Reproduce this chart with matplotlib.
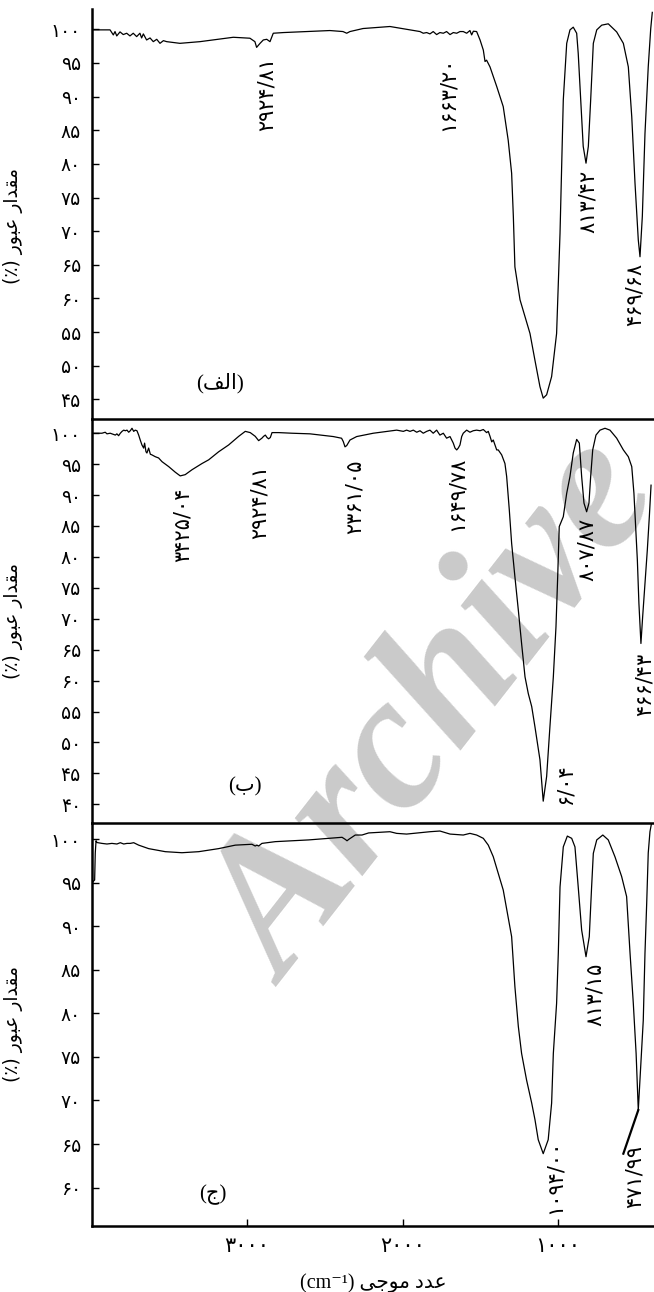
import matplotlib
matplotlib.use("Agg")
import matplotlib.pyplot as plt

# --- spectrum (a) ---
wn_a = [3996, 3988, 3880, 3859, 3848, 3837, 3816, 3795, 3773, 3752, 3731, 3709, 3688, 3677,
        3666, 3645, 3623, 3602, 3580, 3559, 3537, 3516, 3431, 3302, 3088, 2981, 2949, 2938,
        2916, 2895, 2873, 2852, 2831, 2766, 2467, 2383, 2359, 2338, 2254, 2081, 1888, 1867,
        1845, 1824, 1803, 1781, 1760, 1738, 1717, 1695, 1674, 1652, 1631, 1610, 1588, 1567,
        1556, 1545, 1524, 1502, 1481, 1470, 1460, 1438, 1395, 1353, 1321, 1299, 1288, 1278,
        1245, 1181, 1149, 1117, 1096, 1074, 1042, 1010, 988, 967, 945, 924, 903, 881, 871,
        855, 839, 821, 806, 791, 774, 752, 720, 678, 624, 581, 549, 527, 506, 485, 474, 459,
        442, 421, 405, 395]
tr_a = [100.0, 99.9, 99.9, 99.15, 99.65, 99.0, 99.6, 99.2, 99.4, 99.0, 99.4, 98.9, 99.4, 98.7,
        99.3, 98.4, 98.7, 98.15, 98.5, 97.9, 98.3, 98.15, 97.9, 98.15, 98.8, 98.66, 98.15, 97.3,
        97.9, 98.4, 98.5, 98.15, 99.4, 99.5, 99.8, 99.65, 99.4, 99.65, 100.1, 100.4, 99.65, 99.4,
        99.5, 99.3, 99.65, 99.2, 99.5, 99.4, 99.65, 99.2, 99.5, 99.4, 99.65, 99.65, 99.4, 99.8,
        99.15, 99.7, 99.65, 98.4, 96.9, 95.2, 95.4, 94.4, 91.5, 88.5, 83.5, 78.6, 72.2, 64.7,
        59.8, 54.8, 50.8, 46.9, 45.2, 45.7, 48.4, 54.8, 69.7, 89.5, 97.9, 99.9, 100.3, 99.4, 96.4,
        89.5, 82.6, 80.1, 82.6, 89.5, 97.9, 99.9, 100.6, 100.8, 99.6, 97.9, 94.4, 87.0, 77.1, 68.7,
        66.2, 72.2, 84.5, 94.4, 100.1, 102.5]

# --- spectrum (b) ---
wn_b = [3996, 3932, 3911, 3900, 3879, 3846, 3836, 3825, 3814, 3803, 3792, 3782, 3771, 3760,
        3750, 3739, 3728, 3718, 3707, 3696, 3686, 3675, 3664, 3658, 3649, 3643, 3632, 3621,
        3611, 3589, 3568, 3546, 3503, 3461, 3429, 3397, 3353, 3289, 3246, 3182, 3118, 3053,
        3011, 2979, 2947, 2925, 2904, 2893, 2882, 2871, 2861, 2850, 2839, 2796, 2711, 2595,
        2445, 2392, 2381, 2370, 2359, 2338, 2295, 2188, 2038, 1995, 1974, 1952, 1931, 1909,
        1888, 1867, 1845, 1824, 1803, 1781, 1760, 1738, 1717, 1695, 1674, 1663, 1652, 1642,
        1631, 1620, 1610, 1588, 1567, 1546, 1524, 1502, 1481, 1460, 1449, 1438, 1427, 1417,
        1406, 1395, 1385, 1363, 1342, 1331, 1314, 1299, 1278, 1256, 1235, 1213, 1192, 1170,
        1149, 1117, 1096, 1074, 1053, 1031, 1014, 1003, 993, 967, 945, 924, 903, 881, 864, 849,
        834, 817, 802, 791, 778, 757, 731, 699, 667, 624, 581, 549, 527, 513, 502, 491, 481,
        468, 457, 442, 427, 414, 403]
tr_b = [100.0, 100.0, 100.16, 99.9, 100.0, 99.7, 99.9, 99.6, 100.0, 100.3, 100.5, 100.4, 100.5,
        100.16, 100.4, 100.8, 100.3, 100.5, 100.4, 99.7, 98.9, 98.1, 97.6, 98.4, 97.0, 96.8, 97.6,
        96.6, 96.5, 96.2, 96.0, 95.4, 94.6, 93.7, 93.1, 93.3, 94.1, 95.1, 95.7, 97.0, 98.1, 99.5,
        100.3, 100.1, 99.5, 98.8, 99.2, 99.5, 99.7, 99.3, 99.1, 99.3, 100.1, 100.1, 100.0, 99.9,
        99.46, 99.19, 98.65, 97.8, 98.0, 98.9, 99.46, 100.0, 100.5, 100.3, 100.5, 100.3, 100.5,
        100.16, 100.4, 100.0, 100.3, 100.5, 100.0, 100.5, 99.7, 100.0, 99.2, 99.46, 98.4, 97.6,
        97.3, 97.6, 98.1, 99.46, 100.0, 100.5, 100.16, 100.4, 100.5, 100.4, 100.6, 100.1, 100.3,
        99.5, 98.6, 98.9, 98.1, 97.3, 97.3, 96.5, 95.1, 93.0, 87.6, 82.2, 76.8, 71.4, 66.0, 60.6,
        57.9, 55.8, 52.5, 47.2, 40.5, 44.5, 52.5, 60.6, 68.7, 76.8, 84.9, 86.5, 90.3, 93.0, 96.8,
        99.0, 98.4, 93.0, 88.7, 87.3, 88.7, 93.0, 97.3, 99.7, 100.5, 100.8, 100.5, 99.2, 97.3,
        96.2, 94.6, 90.3, 84.9, 79.5, 72.5, 66.0, 70.3, 75.7, 81.1, 86.5, 91.6]

# --- spectrum (c) ---
wn_c = [3996, 3979, 3975, 3970, 3964, 3932, 3900, 3868, 3836, 3814, 3792, 3771, 3750, 3728,
        3696, 3632, 3525, 3418, 3310, 3182, 3075, 2968, 2947, 2936, 2925, 2904, 2818, 2603,
        2389, 2368, 2357, 2346, 2304, 2261, 2218, 2081, 2038, 1974, 1824, 1760, 1695, 1610,
        1567, 1524, 1481, 1449, 1417, 1353, 1299, 1278, 1256, 1235, 1203, 1170, 1149, 1128,
        1096, 1064, 1042, 1031, 1010, 999, 988, 967, 941, 913, 892, 871, 849, 821, 800, 785,
        774, 752, 713, 678, 635, 592, 560, 538, 517, 499, 485, 453, 442, 431, 421, 410, 400]
tr_c = [95.0, 95.3, 98.4, 99.8, 99.6, 99.5, 99.43, 99.5, 99.43, 99.58, 99.43, 99.5, 99.5, 99.58,
        99.3, 98.9, 98.55, 98.43, 98.55, 98.9, 99.3, 99.4, 99.2, 99.3, 99.2, 99.5, 99.7, 99.9,
        100.2, 99.96, 99.8, 99.96, 100.46, 100.46, 100.7, 100.84, 100.65, 100.57, 100.84, 100.92,
        100.57, 100.46, 100.65, 100.46, 100.08, 99.3, 97.97, 94.15, 88.8, 83.06, 78.5, 75.4,
        72.35, 69.7, 67.8, 65.5, 63.9, 65.5, 69.7, 75.4, 81.15, 86.9, 94.5, 99.1, 100.34, 100.08,
        99.1, 94.5, 89.56, 86.5, 88.8, 94.5, 98.36, 99.9, 100.46, 99.9, 97.97, 95.7, 93.4, 86.9,
        81.15, 75.4, 68.9, 79.2, 86.9, 92.6, 98.4, 100.84, 101.8]
lead_wn_c = [485, 581]
lead_tr_c = [68.9, 63.9]

yticks_a = [45, 50, 55, 60, 65, 70, 75, 80, 85, 90, 95, 100]
yticks_b = [40, 45, 50, 55, 60, 65, 70, 75, 80, 85, 90, 95, 100]
yticks_c = [60, 65, 70, 75, 80, 85, 90, 95, 100]
xticks = [3000, 2000, 1000]

# peak labels: (text, wavenumber, transmittance at top of label)
peaks_a = [("۲۹۲۴/۸۱", 2871, 95.9), ("۱۶۶۳/۲۰", 1708, 95.9),
           ("۸۱۳/۴۲", 808, 79.1), ("۴۶۹/۶۸", 506, 65.3)]
peaks_b = [("۳۴۲۵/۰۴", 3411, 91.3), ("۲۹۲۴/۸۱", 2916, 94.9), ("۲۳۶۱/۰۵", 2306, 95.7),
           ("۱۶۴۹/۷۸", 1650, 96.2), ("۸۰۷/۸۷", 815, 86.3), ("۴۶۶/۴۳", 442, 64.5),
           ("۶/۰۴", 956, 46.7)]
peaks_c = [("۸۱۳/۱۵", 763, 85.8), ("۱۰۹۴/۰۰", 1020, 65.5), ("۴۷۱/۹۹", 506, 64.9)]

# Persian strings written in visual order with presentation forms (no shaping in matplotlib)
ylabel_fa = "(\u066A) \uFEAD\uFEEE\uFE92\uFECB \uFEAD\uFE8D\uFEAA\uFED8\uFEE3"  # مقدار عبور (٪)
xlabel_fa = "(cm\u207B\u00B9) \uFEF0\uFE9F\uFEEE\uFEE3 \uFEA9\uFEAA\uFECB"  # عدد موجی (cm-1)
panel_a = "(\uFED2\uFEDF\uFE8D)"  # (الف)
panel_b = "(\uFE8F)"  # (ب)
panel_c = "(\uFE9D)"  # (ج)

FA_DIGITS = str.maketrans("0123456789", "۰۱۲۳۴۵۶۷۸۹")
MIXED = ["Liberation Serif", "DejaVu Sans"]


def fa(n):
    return str(n).translate(FA_DIGITS)


def setup_axis(ax, ylim, yticks, last=False):
    ax.set_facecolor("none")
    ax.set_xlim(3996, 384)
    ax.set_ylim(*ylim)
    for s in ("top", "right"):
        ax.spines[s].set_visible(False)
    ax.spines["left"].set_linewidth(1.8)
    ax.spines["bottom"].set_linewidth(1.8)
    ax.set_yticks(yticks)
    ax.set_yticklabels([fa(t) for t in yticks], family="DejaVu Sans")
    ax.tick_params(axis="y", direction="in", length=5, width=1, labelsize=13.5, pad=8)
    if last:
        ax.set_xticks(xticks)
        ax.set_xticklabels([fa(t) for t in xticks], family="DejaVu Sans")
        ax.tick_params(axis="x", direction="in", length=5, width=1, labelsize=15, pad=7)
        ax.set_xlabel(xlabel_fa, family=MIXED, fontsize=14.5, labelpad=13)
    else:
        ax.set_xticks([])
    ax.set_ylabel(ylabel_fa, family="DejaVu Sans", fontsize=13.5)
    ax.yaxis.set_label_coords(-0.123, 0.5)


def draw_panel(ax, wn, tr, peaks, label, label_pos):
    ax.plot(wn, tr, color="black", lw=0.9)
    for txt, x, y in peaks:
        ax.text(x, y, txt, rotation=90, ha="center", va="top", fontsize=15,
                family="DejaVu Sans")
    ax.text(label_pos[0], label_pos[1], label, ha="center", va="center",
            fontsize=15, family=MIXED)


fig = plt.figure(figsize=(6.54, 12.92), dpi=100)
left, width = 92 / 654, 562 / 654
ax1 = fig.add_axes([left, 1 - 419 / 1292, width, 410 / 1292])
ax2 = fig.add_axes([left, 1 - 823 / 1292, width, 404 / 1292])
ax3 = fig.add_axes([left, 1 - 1226 / 1292, width, 403 / 1292])

setup_axis(ax1, (42.1, 103.0), yticks_a)
setup_axis(ax2, (36.97, 102.3), yticks_b)
setup_axis(ax3, (55.6, 101.84), yticks_c, last=True)
ax1.yaxis.set_label_coords(-0.123, 0.47)

draw_panel(ax1, wn_a, tr_a, peaks_a, panel_a, (3174, 47.4))
draw_panel(ax2, wn_b, tr_b, peaks_b, panel_b, (3013, 42.8))
draw_panel(ax3, wn_c, tr_c, peaks_c, panel_c, (3219, 59.2))
ax3.plot(lead_wn_c, lead_tr_c, color="black", lw=1.6)

# watermark of the scanned source
fig.text(440 / 654, 1 - 715 / 1292, "Archive", fontsize=138, fontstyle="italic",
         fontweight="bold", family="Liberation Serif", color="#cacaca", rotation=52,
         ha="center", va="center", zorder=-1)

fig.savefig("out.png", dpi=100)
